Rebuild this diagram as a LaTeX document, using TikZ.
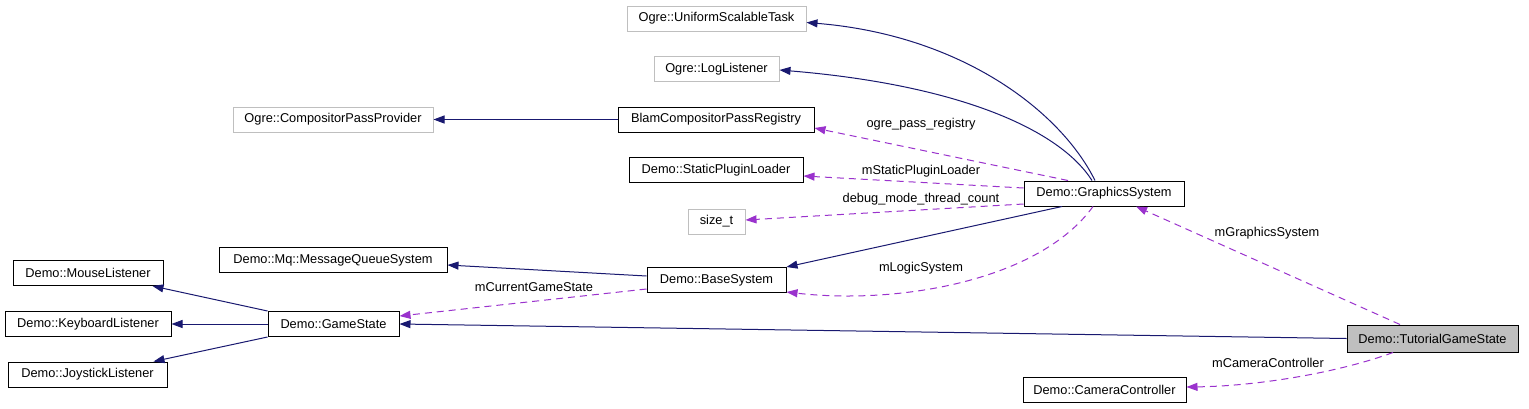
\documentclass[tikz,border=0pt]{standalone}
\usepackage{fontspec}
\setmainfont{Liberation Sans}
\usetikzlibrary{arrows.meta}
\definecolor{navy}{HTML}{191970}
\definecolor{purp}{HTML}{9A32CD}
\definecolor{gborder}{HTML}{BFBFBF}
\begin{document}
\begin{tikzpicture}[x=1pt,y=-1pt,
  font=\fontsize{12.8}{15}\selectfont,
  cls/.style={draw=black, line width=1pt, rectangle, minimum height=25pt, inner sep=0pt, fill=white},
  ext/.style={cls, draw=gborder},
  cur/.style={cls, fill=gborder, minimum height=27pt},
  inh/.style={navy, line width=1pt, -{Triangle[length=11pt,width=8pt]}},
  use/.style={purp, line width=1pt, dash pattern=on 7pt off 5pt, -{Triangle[length=11pt,width=8pt]}},
  lbl/.style={inner sep=0pt, text=black}]
\useasboundingbox[fill=white] (0,0) rectangle (1529,408);

% nodes
\node[ext, minimum width=179pt] (UST) at (716.5,18.5) {Ogre::UniformScalableTask};
\node[ext, minimum width=125pt] (LL) at (716.5,69) {Ogre::LogListener};
\node[cls, minimum width=196pt] (BCPR) at (716,119.5) {BlamCompositorPassRegistry};
\node[ext, minimum width=200pt] (CPP) at (333,119.5) {Ogre::CompositorPassProvider};
\node[cls, minimum width=174pt] (SPL) at (716,170) {Demo::StaticPluginLoader};
\node[ext, minimum width=57pt] (SZ) at (716.5,221.5) {size\_t};
\node[cls, minimum width=139pt] (BS) at (716.5,280) {Demo::BaseSystem};
\node[cls, minimum width=160pt] (GS) at (1104,193.5) {Demo::GraphicsSystem};
\node[cur, minimum width=171pt] (TGS) at (1432.5,338.5) {Demo::TutorialGameState};
\node[cls, minimum width=163pt] (CC) at (1104.5,389.5) {Demo::CameraController};
\node[cls, minimum width=228pt] (MQS) at (333,260) {Demo::Mq::MessageQueueSystem};
\node[cls, minimum width=131pt] (GSt) at (333.5,324) {Demo::GameState};
\node[cls, minimum width=150pt] (ML) at (88,273) {Demo::MouseListener};
\node[cls, minimum width=166pt] (KL) at (88,324) {Demo::KeyboardListener};
\node[cls, minimum width=159pt] (JL) at (87.5,374.5) {Demo::JoystickListener};

% inheritance
\draw[inh] (TGS.west) -- (GSt.east);
\draw[inh] (GSt.north west) -- ([xshift=-11pt]ML.south east);
\draw[inh] (GSt.west) -- (KL.east);
\draw[inh] (GSt.south west) -- ([xshift=-14pt]JL.north east);
\draw[inh] ([yshift=4pt]BS.west) -- ([yshift=-5pt]MQS.east);
\draw[inh] ([xshift=-42pt]GS.south) -- (BS.north east);
\draw[inh] ([xshift=-9pt]GS.north) .. controls (1060,110) and (960,35) .. ([yshift=-4pt]UST.east);
\draw[inh] ([xshift=-12pt]GS.north) .. controls (1060,130) and (960,85) .. ([yshift=-1pt]LL.east);
\draw[inh] (BCPR.west) -- (CPP.east);

% usage
\draw[use] ([xshift=-36pt]GS.north) -- ([yshift=-8.5pt]BCPR.east);
\draw[use] ([yshift=5.5pt]GS.west) -- ([yshift=-6pt]SPL.east);
\draw[use] ([yshift=-10.5pt]GS.west) -- ([yshift=1.5pt]SZ.east);
\draw[use] ([xshift=-11pt]GS.south) .. controls (1040,280) and (900,305) .. ([yshift=-12pt]BS.east);
\draw[use] ([yshift=-9pt]BS.west) -- ([yshift=8pt]GSt.east);
\draw[use] ([xshift=-32.5pt]TGS.north) -- ([xshift=32pt]GS.south);
\draw[use] ([xshift=-39.5pt]TGS.south) .. controls (1340,372) and (1260,386) .. ([yshift=2.5pt]CC.east);

% labels
\node[lbl] (l1) at (921,124) {ogre\_pass\_registry};
\node[lbl] (l2) at (921,171) {mStaticPluginLoader};
\node[lbl] (l3) at (921,199) {debug\_mode\_thread\_count};
\node[lbl] (l4) at (921,268) {mLogicSystem};
\node[lbl] (l5) at (534,287) {mCurrentGameState};
\node[lbl] (l6) at (1267,233) {mGraphicsSystem};
\node[lbl] (l7) at (1268,363) {mCameraController};
\end{tikzpicture}
\end{document}
